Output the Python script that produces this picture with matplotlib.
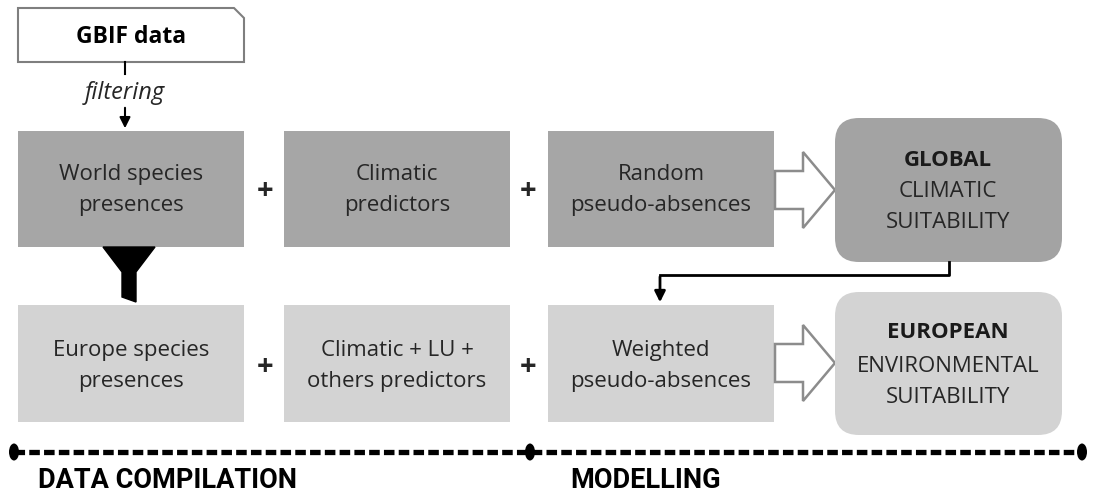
import matplotlib.pyplot as plt
from matplotlib.patches import Rectangle, FancyBboxPatch, Polygon, Ellipse

# box texts
top_row = ["World species\npresences", "Climatic\npredictors", "Random\npseudo-absences"]
bottom_row = ["Europe species\npresences", "Climatic + LU +\nothers predictors", "Weighted\npseudo-absences"]
top_result = ("GLOBAL", "CLIMATIC\nSUITABILITY")
bottom_result = ("EUROPEAN", "ENVIRONMENTAL\nSUITABILITY")
phases = ["DATA COMPILATION", "MODELLING"]
source = "GBIF data"
step = "filtering"

plt.rcParams['font.family'] = ['Open Sans', 'DejaVu Sans']

fig = plt.figure(figsize=(10.99, 4.95), dpi=100)
ax = fig.add_axes([0, 0, 1, 1])
ax.set_xlim(0, 1099)
ax.set_ylim(495, 0)
ax.axis("off")

txt = "#262626"
dark = "#a6a6a6"
light = "#d3d3d3"

col_x = [18, 284, 548]
box_w = 226
ls = 1.68

# GBIF box with snipped corner
gx0, gx1, gy0, gy1 = 18, 244, 8, 62
ax.add_patch(Polygon([(gx0, gy0), (gx1 - 10, gy0), (gx1, gy0 + 10), (gx1, gy1), (gx0, gy1)],
                     closed=True, fc="white", ec="#7f7f7f", lw=1.5))
ax.text((gx0 + gx1) / 2, 37, source, ha="center", va="center", fontsize=16.5,
        fontweight="bold", color="black")
ax.plot([125, 125], [62, 74], color="black", lw=1.5)
ax.text(125, 93, step, ha="center", va="center", fontsize=17, style="italic", color=txt)
ax.annotate("", xy=(125, 131), xytext=(125, 105),
            arrowprops=dict(arrowstyle="-|>", color="black", lw=1.5, mutation_scale=16))

rows = [(top_row, 131, 247, dark, 190), (bottom_row, 305, 422, light, 366)]
for labels, y0, y1, fc, yt in rows:
    for i, lab in enumerate(labels):
        ax.add_patch(Rectangle((col_x[i], y0), box_w, y1 - y0, fc=fc, ec="none"))
        ax.text(col_x[i] + box_w / 2, yt, lab, ha="center", va="center",
                fontsize=16, color=txt, linespacing=ls)
    for px in [265, 528]:
        ax.text(px, yt + 2, "+", ha="center", va="center", fontsize=21, fontweight="bold", color=txt)

# hollow arrows
for yc in [190, 363]:
    ax.add_patch(Polygon([(775, yc - 19), (803, yc - 19), (803, yc - 38), (835, yc),
                          (803, yc + 38), (803, yc + 19), (775, yc + 19)],
                         closed=True, fc="white", ec="#8c8c8c", lw=1.8))

# result boxes
results = [(top_result, 118, 262, "#a3a3a3", 160, 207), (bottom_result, 292, 435, light, 333, 382)]
for (head, rest), y0, y1, fc, yh, yr in results:
    ax.add_patch(FancyBboxPatch((835 + 24, y0 + 24), 227 - 48, y1 - y0 - 48,
                                boxstyle="round,pad=24", fc=fc, ec="none"))
    ax.text(948, yh, head, ha="center", va="center", fontsize=16,
            fontweight="bold", color="#1a1a1a")
    ax.text(948, yr, rest, ha="center", va="center", fontsize=16,
            color=txt, linespacing=ls * 0.95)

# elbow connector
ax.plot([949, 949, 660], [262, 275, 275], color="black", lw=2)
ax.annotate("", xy=(660, 305), xytext=(660, 274),
            arrowprops=dict(arrowstyle="-|>", color="black", lw=2, mutation_scale=16))

# funnel
ax.add_patch(Polygon([(103, 247), (155, 247), (136, 272), (136, 302), (122, 297), (122, 272)],
                     closed=True, fc="black", ec="black"))

# timeline
ax.plot([14, 1082], [452, 452], color="black", lw=3.8, dashes=(2.0, 0.8))
for ex in [14, 530, 1082]:
    ax.add_patch(Ellipse((ex, 452), 10, 17, fc="black", ec="none"))
for lab, lx in zip(phases, [38, 570]):
    ax.text(lx, 481, lab, ha="left", va="center", fontsize=19.5, fontweight="bold",
            family=["Roboto", "DejaVu Sans"], color="black")

fig.savefig("out.png", dpi=100)
